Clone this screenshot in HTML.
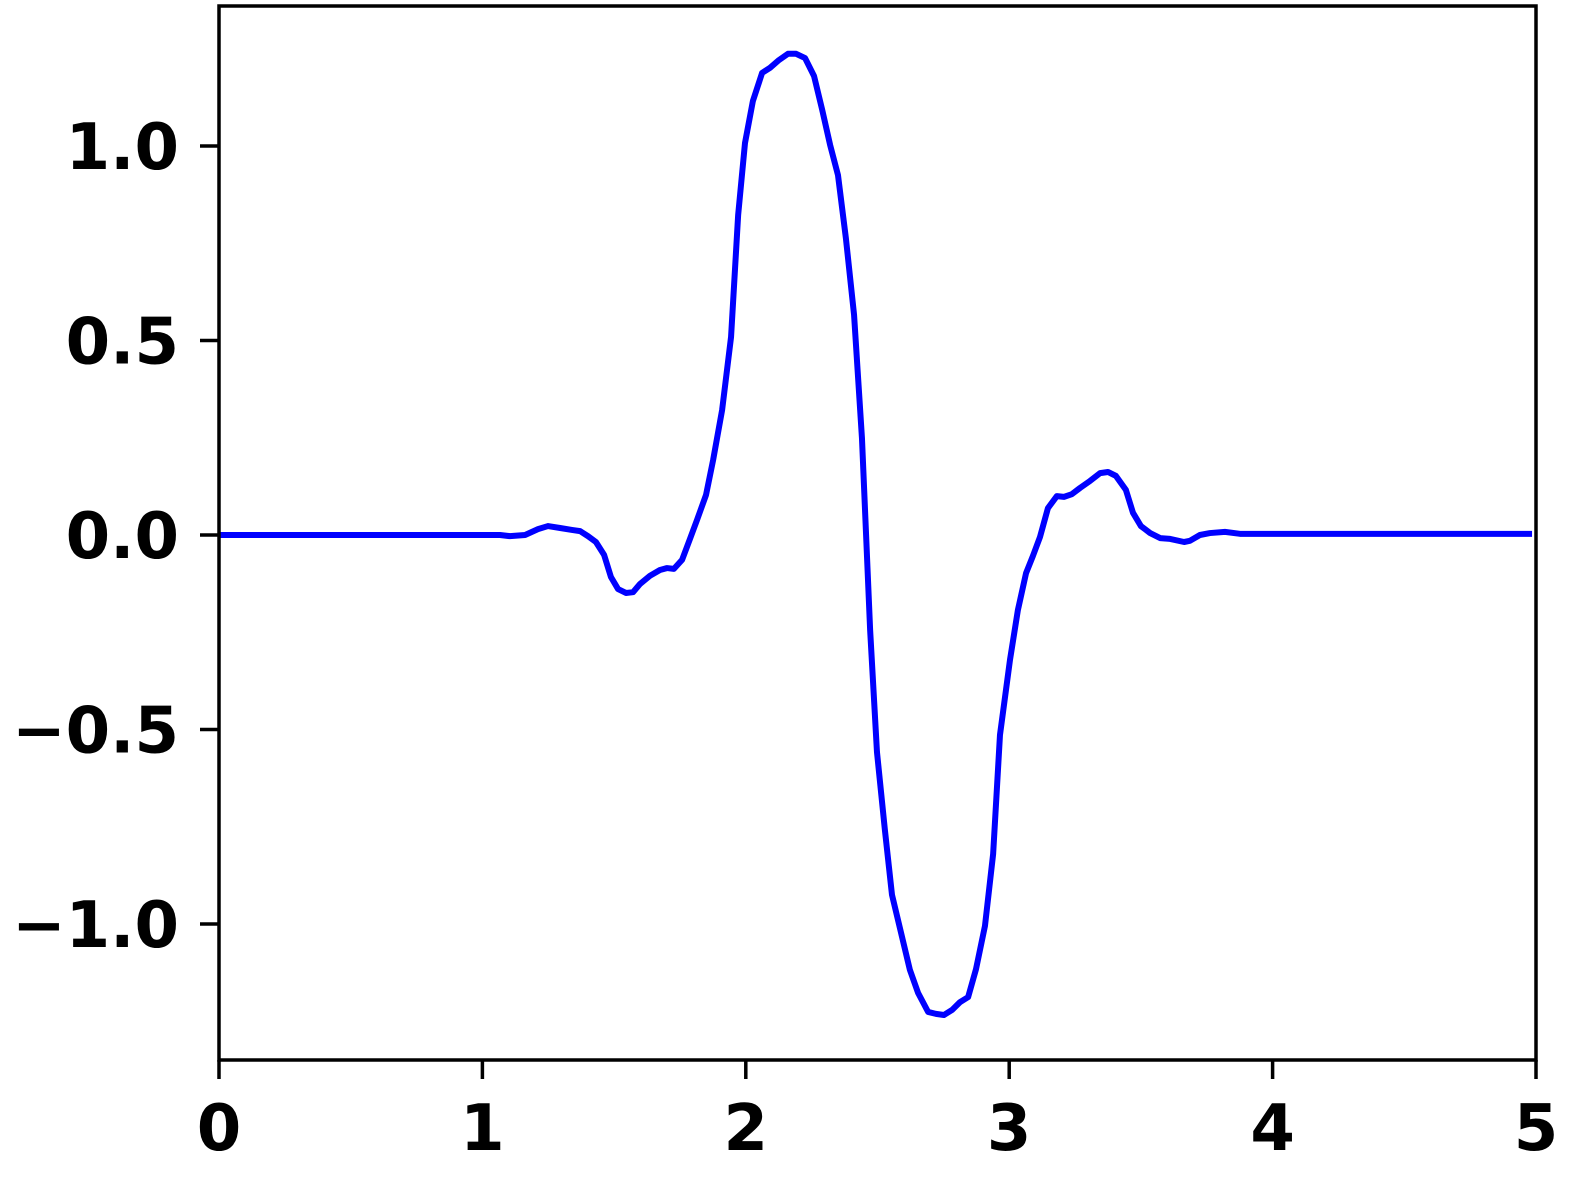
<!DOCTYPE html>
<html><head><meta charset="utf-8"><style>
html,body{margin:0;padding:0;background:#fff;}
svg{display:block;}
text{font-family:"DejaVu Sans","Liberation Sans",sans-serif;font-weight:bold;font-size:64px;fill:#000;}
</style></head><body>
<svg id="chart" width="1582" height="1182" viewBox="0 0 1582 1182" xmlns="http://www.w3.org/2000/svg"></svg>
<script>
const xTicks=[0,1,2,3,4,5];
const yTicks=[-1.0,-0.5,0.0,0.5,1.0];
const yTickLabels=["\u22121.0","\u22120.5","0.0","0.5","1.0"];
const xValues=[0,1.067,1.105,1.162,1.211,1.249,1.295,1.340,1.371,1.401,1.431,1.462,1.488,1.515,1.545,1.572,1.598,1.636,1.674,1.701,1.727,1.758,1.788,1.815,1.849,1.876,1.910,1.944,1.971,1.997,2.027,2.062,2.092,2.126,2.160,2.191,2.225,2.259,2.290,2.320,2.350,2.380,2.411,2.441,2.472,2.498,2.528,2.555,2.585,2.623,2.654,2.692,2.722,2.752,2.783,2.813,2.844,2.874,2.908,2.939,2.965,3.003,3.033,3.064,3.090,3.117,3.147,3.181,3.208,3.238,3.269,3.307,3.345,3.375,3.405,3.443,3.470,3.500,3.535,3.573,3.611,3.664,3.686,3.724,3.762,3.819,3.876,4.985];
const yValues=[0,0,-0.003,0,0.015,0.023,0.018,0.013,0.010,-0.003,-0.018,-0.051,-0.108,-0.139,-0.149,-0.147,-0.126,-0.105,-0.090,-0.085,-0.087,-0.064,-0.010,0.039,0.103,0.193,0.321,0.509,0.823,1.008,1.116,1.188,1.201,1.221,1.237,1.237,1.226,1.180,1.093,1.003,0.925,0.763,0.566,0.249,-0.244,-0.558,-0.758,-0.925,-1.010,-1.118,-1.177,-1.226,-1.231,-1.234,-1.221,-1.201,-1.188,-1.116,-1.005,-0.820,-0.514,-0.321,-0.193,-0.098,-0.054,-0.005,0.069,0.100,0.098,0.105,0.121,0.139,0.159,0.162,0.152,0.116,0.057,0.023,0.005,-0.008,-0.010,-0.018,-0.015,0,0.005,0.008,0.003,0.003];

const NS="http://www.w3.org/2000/svg";
const svg=document.getElementById('chart');
const L=219,R=1536,T=6,B=1060;
const X=v=>L+(v-0)/(5-0)*(R-L);
const Y=v=>535-v*389;
function mk(tag,attrs){const e=document.createElementNS(NS,tag);for(const k in attrs)e.setAttribute(k,attrs[k]);svg.appendChild(e);return e;}

const line=mk('polyline',{points:xValues.map((x,i)=>X(x)+','+Y(yValues[i])).join(' '),fill:'none',stroke:'#0000ff','stroke-width':6,'stroke-linejoin':'round'});



const frame=mk('rect',{x:L,y:T,width:R-L,height:B-T,fill:'none',stroke:'#000','stroke-width':3.5});



xTicks.forEach(t=>{
  const tk=mk('line',{x1:X(t),x2:X(t),y1:B,y2:B+19,stroke:'#000','stroke-width':3.5});
  
  
  const lb=mk('text',{x:X(t),y:1150,'text-anchor':'middle'});
  lb.textContent=String(t);
  
  
});
yTicks.forEach((t,i)=>{
  const tk=mk('line',{x1:L-19,x2:L,y1:Y(t),y2:Y(t),stroke:'#000','stroke-width':3.5});
  
  
  const lb=mk('text',{x:179,y:Y(t)+23,'text-anchor':'end'});
  lb.textContent=yTickLabels[i];
  
  
});
</script>
</body></html>
